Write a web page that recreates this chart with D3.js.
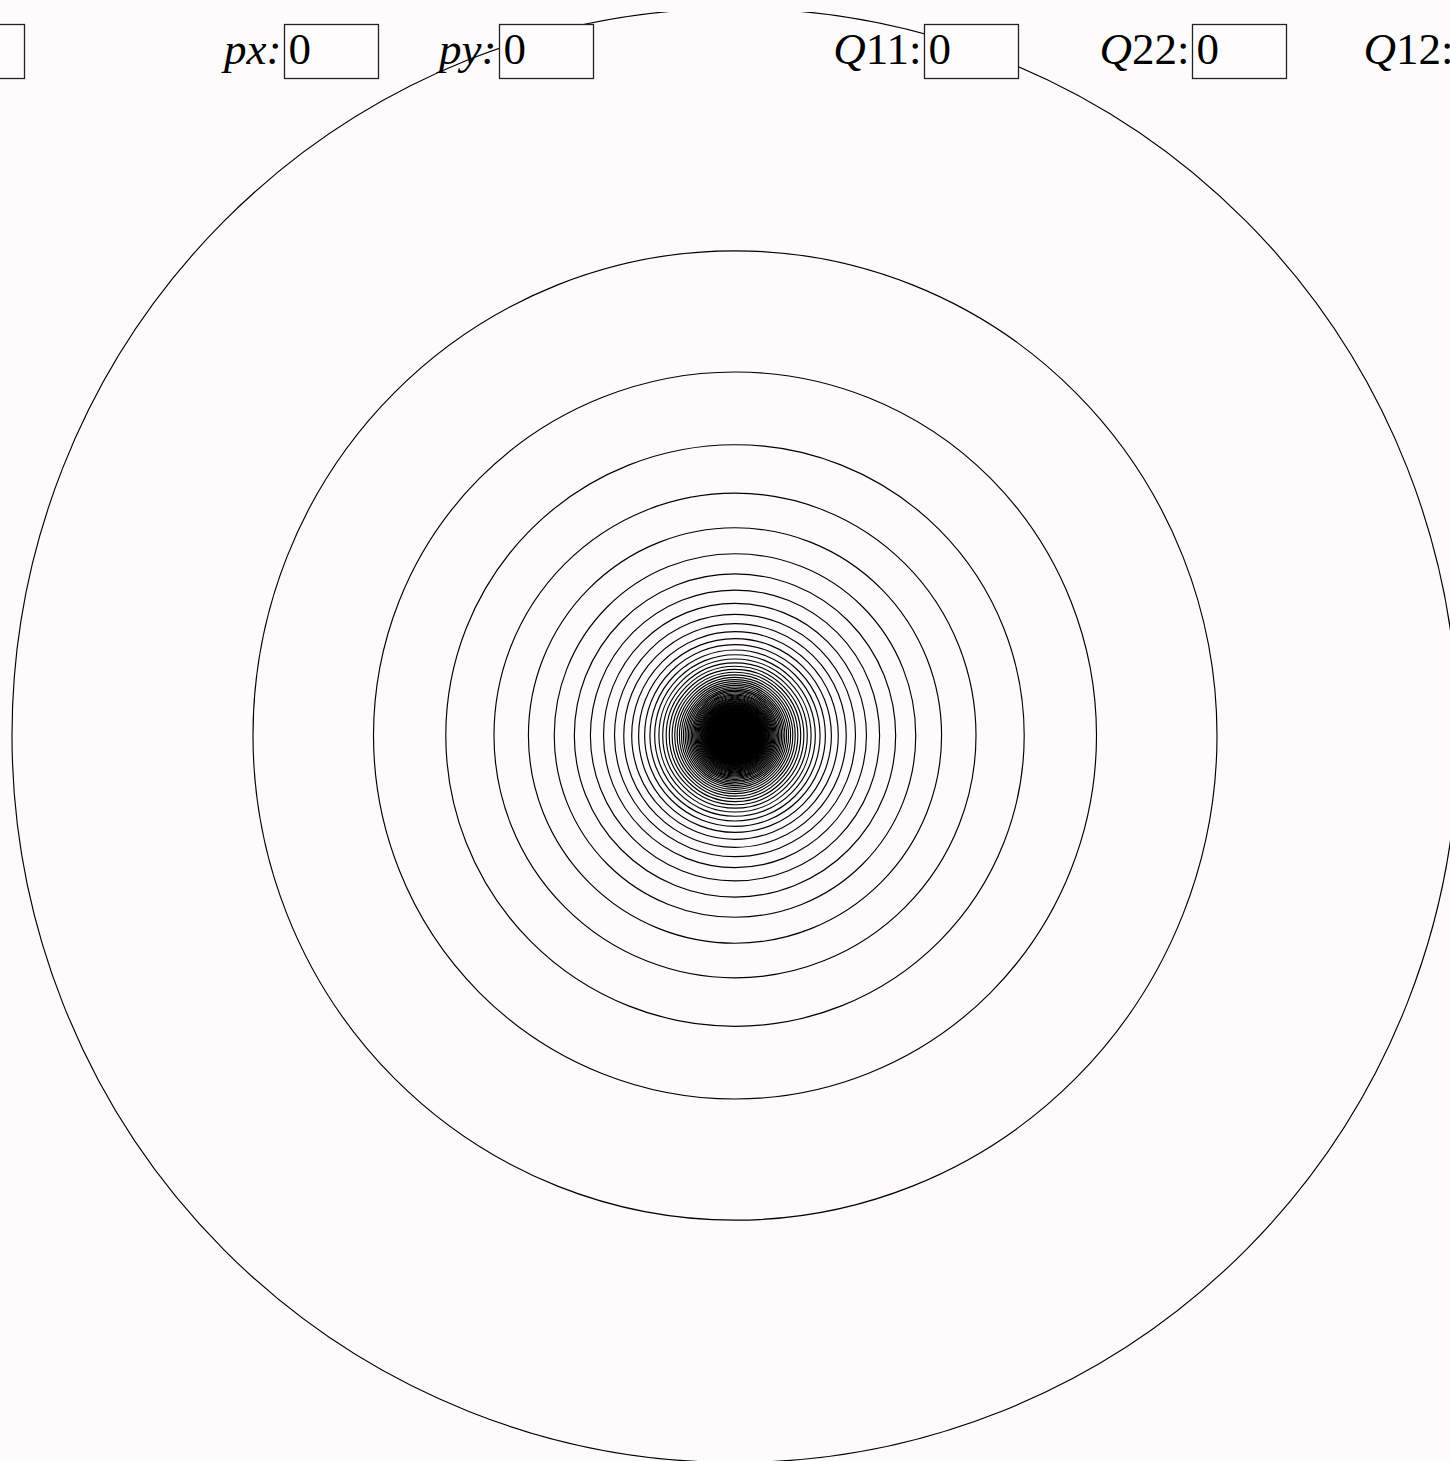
<!DOCTYPE html>
<html>
<head>
<meta charset="utf-8">
<script src="https://cdn.jsdelivr.net/npm/d3@7/dist/d3.min.js"></script>
<style>
  html, body { margin: 0; padding: 0; background: #fdfbfc; overflow: hidden; }
  svg { display: block; }
</style>
</head>
<body>
<svg id="chart" width="1450" height="1461"></svg>
<script>
// ---- data ----
const paramNames  = ["q", "px", "py", "Q11", "Q22", "Q12"];
const paramValues = [1, 0, 0, 0, 0, 0];
// equipotential contour levels (evenly spaced potential values)
const contourLevels = d3.range(1, 1000, 0.5);

// ---- layout ----
const W = 1450, H = 1461;
const svg = d3.select("#chart");
// plot area is a square domain stretched slightly taller than wide
const x = d3.scaleLinear().domain([-1, 1]).range([12, 1458]);
const y = d3.scaleLinear().domain([1, -1]).range([8.5, 1462.5]);

svg.append("defs").append("clipPath").attr("id", "plotClip")
  .append("rect").attr("x", 0).attr("y", 12).attr("width", W).attr("height", H - 12);

const q = paramValues[paramNames.indexOf("q")];
// monopole potential phi = q / r  ->  contour of level L is the circle r = q / L
const g = svg.append("g").attr("clip-path", "url(#plotClip)");
g.selectAll("ellipse").data(contourLevels).join("ellipse")
  .attr("cx", x(0))
  .attr("cy", y(0))
  .attr("rx", L => x(q / L) - x(0))
  .attr("ry", L => y(0) - y(q / L))
  .attr("fill", "none")
  .attr("stroke", "#000")
  .attr("stroke-width", 1.15);

// ---- parameter inputs ----
const boxLeft = [-70, 284, 499, 924, 1192, 1456];
const boxW = 94, boxTop = 24.5, boxH = 54;
const ui = svg.append("g").attr("font-family", "'Liberation Serif', 'Times New Roman', serif")
  .attr("font-size", 45);
paramNames.forEach((name, i) => {
  const bx = boxLeft[i] + 0.5;
  const lab = ui.append("text").attr("x", bx - 3).attr("y", 64).attr("text-anchor", "end");
  if (name.startsWith("Q")) {
    lab.append("tspan").attr("font-style", "italic").text("Q");
    lab.append("tspan").text(name.slice(1) + ":");
  } else {
    lab.append("tspan").attr("font-style", "italic").text(name + ":");
  }
  ui.append("rect").attr("x", bx).attr("y", boxTop).attr("width", boxW).attr("height", boxH)
    .attr("fill", "#fefcfd").attr("stroke", "#222").attr("stroke-width", 1.3);
  ui.append("text").attr("x", bx + 4).attr("y", 64).text(String(paramValues[i]));
});
</script>
</body>
</html>
